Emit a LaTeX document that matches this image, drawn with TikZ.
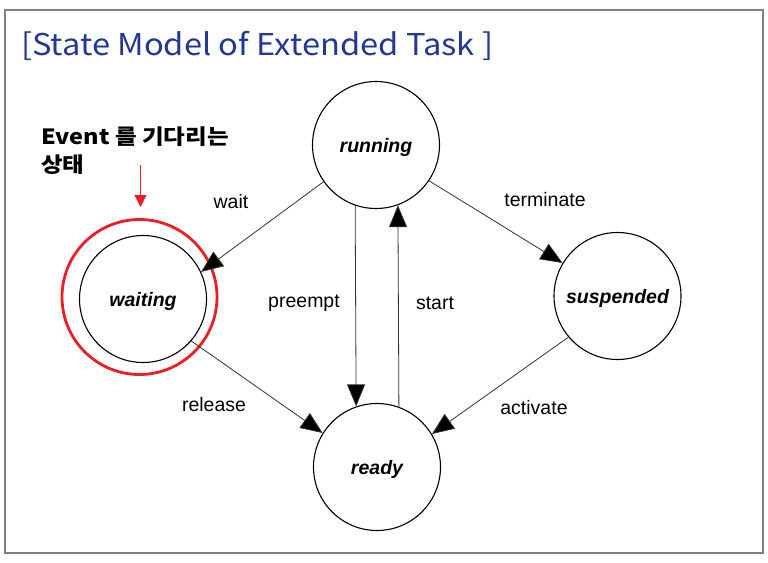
\documentclass[tikz,border=0pt]{standalone}
\usepackage{fontspec}
\setmainfont{Liberation Sans}
\newfontfamily\krfont{Noto Sans CJK KR}
\newfontfamily\titlefont{Noto Sans CJK KR}[FakeStretch=1.09]
\newfontfamily\notefont{Noto Sans CJK KR}[FakeStretch=1.12]
\usetikzlibrary{arrows.meta}
\definecolor{titleblue}{RGB}{35,55,150}
\definecolor{framegray}{RGB}{128,128,128}
\definecolor{edgegray}{RGB}{50,50,50}
\definecolor{annred}{RGB}{235,30,35}
\begin{document}
\begin{tikzpicture}[x=1pt,y=-1pt,
  state/.style={circle,draw=black,line width=1.1pt,minimum size=127pt,inner sep=0pt,
    text height=14pt,text depth=0pt,
    font=\fontsize{19.5}{22}\selectfont\bfseries\itshape},
  trans/.style={draw=edgegray,line width=0.8pt,
    -{Triangle[length=22pt,width=18pt,fill=black]}},
  lbl/.style={font=\fontsize{19.5}{22}\selectfont,text=black,inner sep=0pt},
  notetext/.style={anchor=base west,inner sep=0pt,font=\notefont\bfseries\fontsize{21}{28}\selectfont}]
\useasboundingbox (0,0) rectangle (768,562);
\draw[framegray,line width=1.3pt] (5,10) rectangle (763,553);

\node[anchor=base west,inner sep=0pt,text=titleblue,
  font=\titlefont\fontsize{30}{33}\selectfont] (title) at (21,55)
  {[State Model of Extended Task ]};

\node[state] (running) at (376,145) {running};
\node[state] (waiting) at (143,299) {waiting};
\node[state] (suspended) at (617.5,296) {suspended};
\node[state] (ready) at (377,467) {ready};

\node[circle,draw=annred,line width=2.8pt,minimum size=155pt,inner sep=0pt] (ring) at (139.5,297) {};

\node[notetext] (note1) at (41,144) {Event 를 기다리는};
\node[notetext] (note2) at (41,172) {상태};
\coordinate (redstart) at (140.5,165);
\coordinate (redend) at (140.5,207);
\draw[annred,line width=1.2pt,-{Triangle[length=12pt,width=12pt]}] (redstart) -- (redend);

\draw[trans] (running.215) -- (waiting.25);
\draw[trans] (running.-34) -- (suspended.149);
\draw[trans] (running.-109.5) -- (ready.109.5);
\draw[trans] (ready.70.5) -- (running.-70.5);
\draw[trans] (waiting.-41) -- (ready.148);
\draw[trans] (suspended.-140) -- (ready.31);

\node[lbl] (lwait) at (231,202) {wait};
\node[lbl] (lterm) at (545,200) {terminate};
\node[lbl] (lpre) at (304,303) {preempt};
\node[lbl] (lstart) at (435,303) {start};
\node[lbl] (lrel) at (214,405) {release};
\node[lbl] (lact) at (534,408) {activate};
\end{tikzpicture}
\end{document}
